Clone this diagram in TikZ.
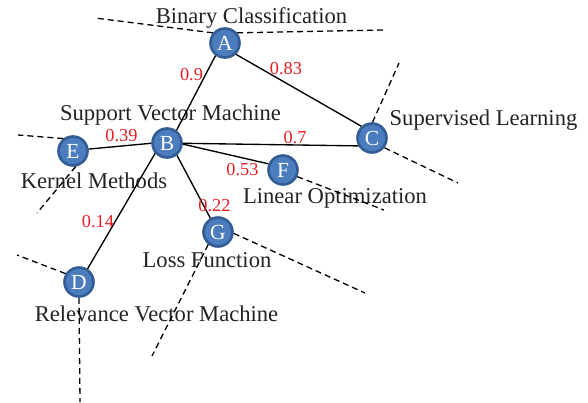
\documentclass[tikz,border=0pt]{standalone}
\usepackage{fontspec}
\setmainfont{Liberation Serif}
\definecolor{nodefill}{RGB}{74,124,190}
\definecolor{nodeborder}{RGB}{50,92,148}
\definecolor{wred}{RGB}{232,28,36}
\definecolor{labtext}{RGB}{35,35,35}
\tikzset{
  vtx/.style={circle, fill=nodefill, draw=nodeborder, line width=2.6pt, minimum size=29pt, inner sep=0pt,
              text=white, font=\fontsize{21.5}{21.5}\selectfont},
  lab/.style={anchor=base, inner sep=0pt, text=labtext, font=\fontsize{22.6}{24}\selectfont},
  wt/.style={anchor=base, inner sep=0pt, text=wred, font=\fontsize{18.3}{20}\selectfont},
  edge/.style={line width=1.35pt, black},
  dedge/.style={line width=1.3pt, black, dash pattern=on 6pt off 4pt},
}
\begin{document}
\begin{tikzpicture}[x=1pt,y=-1pt]
\useasboundingbox (0,0) rectangle (588,402);
% nodes
\node[vtx] (A) at (225,43) {A};
\node[vtx] (B) at (167,143) {B};
\node[vtx] (C) at (372,138) {C};
\node[vtx] (D) at (79,282) {D};
\node[vtx] (E) at (73,151) {E};
\node[vtx] (F) at (283,170) {F};
\node[vtx] (G) at (218,232) {G};
% labels
\node[lab] (lA) at (251.5,23) {Binary Classification};
\node[lab] (lB) at (170.5,120) {Support Vector Machine};
\node[lab] (lC) at (483.5,125) {Supervised Learning};
\node[lab] (lE) at (94,188) {Kernel Methods};
\node[lab] (lF) at (335,203) {Linear Optimization};
\node[lab] (lG) at (207,267) {Loss Function};
\node[lab] (lD) at (156.5,321.7) {Relevance Vector Machine};
% solid edges
\draw[edge] (A.-127) -- (B.53);
\draw[edge] (A.-46) -- (C.132);
\draw[edge] (B.-1) -- (C.210);
\draw[edge] (B.181) -- (E.7);
\draw[edge] (B.-4) -- (F.157);
\draw[edge] (B.-51) -- (G.119);
\draw[edge] (B.-139) -- (D.57);
% weights
\node[wt] (wAB) at (191.5,80.7) {0.9};
\node[wt] (wAC) at (286,74) {0.83};
\node[wt] (wBE) at (121.5,141.7) {0.39};
\node[wt] (wBC) at (295,143.8) {0.7};
\node[wt] (wBF) at (242.5,175) {0.53};
\node[wt] (wBG) at (214.5,211.7) {0.22};
\node[wt] (wBD) at (98,227.3) {0.14};
% dashed free ends
\coordinate (a1) at (95,18);
\coordinate (a2) at (383,30);
\coordinate (c1) at (399,63);
\coordinate (c2) at (458,183);
\coordinate (e1) at (18,135);
\coordinate (e2) at (37,213);
\coordinate (f1) at (384,210);
\coordinate (g1) at (365,293);
\coordinate (g2) at (152,356);
\coordinate (d1) at (17,255);
\coordinate (d2) at (80,402);
\draw[dedge] (A.140) -- (a1);
\draw[dedge] (A.40) -- (a2);
\draw[dedge] (C.88) -- (c1);
\draw[dedge] (C.-38) -- (c2);
\draw[dedge] (E.128) -- (e1);
\draw[dedge] (E.-80) -- (e2);
\draw[dedge] (F.-25) -- (f1);
\draw[dedge] (G.-5) -- (g1);
\draw[dedge] (G.-128) -- (g2);
\draw[dedge] (D.148) -- (d1);
\draw[dedge] (D.south) -- (d2);
\end{tikzpicture}
\end{document}
